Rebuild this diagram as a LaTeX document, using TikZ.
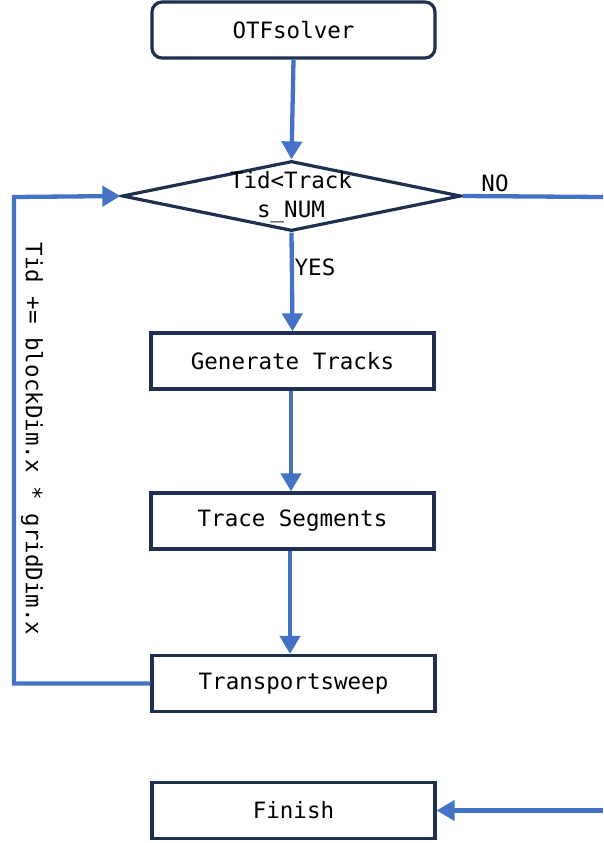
\documentclass[tikz,border=0pt]{standalone}
\usepackage{fontspec}
\setmonofont{DejaVu Sans Mono}
\usetikzlibrary{shapes.geometric,arrows.meta}
\definecolor{flowblue}{HTML}{4472C4}
\definecolor{boxnavy}{HTML}{1F2F4F}
\tikzset{
  boxstyle/.style={draw=boxnavy, line width=3.2pt, fill=white, minimum width=283pt, minimum height=56pt, inner sep=0pt, font=\ttfamily\fontsize{22.5}{28}\selectfont},
  flow/.style={draw=flowblue, line width=4.3pt, -{Triangle[length=18pt,width=20pt]}},
  flowline/.style={draw=flowblue, line width=4.3pt},
  lbl/.style={font=\ttfamily\fontsize{22.5}{28}\selectfont, inner sep=0pt}
}
\begin{document}
\begin{tikzpicture}[x=1pt,y=-1pt]
\useasboundingbox (0,0) rectangle (603,843);
\node[boxstyle, rounded corners=10pt] (otf) at (293.5,30) {OTFsolver};
\node[draw=boxnavy, line width=3.2pt, shape=diamond, aspect=4.84, minimum width=339pt, minimum height=70pt, inner sep=0pt] (dec) at (291.5,196) {};
\node[lbl, align=center, font=\ttfamily\fontsize{22.5}{29}\selectfont] (dectext) at (291,197) {Tid<Track\\s\_NUM};
\node[boxstyle] (gen) at (292.5,361) {Generate Tracks};
\node[boxstyle] (trace) at (292.5,521) {Trace Segments};
\node[boxstyle] (trans) at (293.5,683.5) {Transportsweep};
\node[boxstyle] (fin) at (293.5,810.5) {Finish};
\coordinate (noend) at (603,197);
\coordinate (finstart) at (603,810.5);
\coordinate (loopbot) at (14,683.5);
\coordinate (looptop) at (14,197);
\draw[flow] (otf.south) -- (dec.north);
\draw[flow] (dec.south) -- (gen.north);
\draw[flow] (gen.south -| 291,0) -- (trace.north -| 291,0);
\draw[flow] (trace.south -| 290,0) -- (trans.north -| 290,0);
\draw[flow] (trans.west) -- (loopbot) -- (looptop) -- (dec.west);
\draw[flowline] (dec.east) -- (noend);
\draw[flow] (finstart) -- (fin.east);
\node[lbl] (yes) at (315,267) {YES};
\node[lbl] (no) at (495,183) {NO};
\node[lbl, rotate=-90] (inc) at (32,439) {Tid += blockDim.x * gridDim.x};
\end{tikzpicture}
\end{document}
